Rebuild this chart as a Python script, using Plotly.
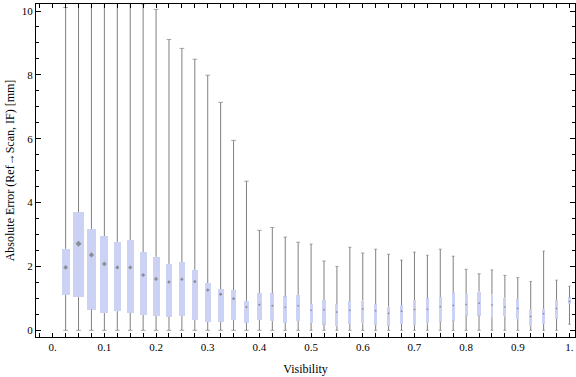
import plotly.graph_objects as go

# ---------------- data ----------------
visibility = [0.025, 0.05, 0.075, 0.1, 0.125, 0.15, 0.175, 0.2, 0.225, 0.25,
              0.275, 0.3, 0.325, 0.35, 0.375, 0.4, 0.425, 0.45, 0.475, 0.5,
              0.525, 0.55, 0.575, 0.6, 0.625, 0.65, 0.675, 0.7, 0.725, 0.75,
              0.775, 0.8, 0.825, 0.85, 0.875, 0.9, 0.925, 0.95, 0.975, 1.0]

whisker_low = [0, 0, 0, 0, 0, 0, 0, 0, 0, 0,
               0, 0, 0, 0, 0, 0, 0, 0, 0, 0,
               0, 0, 0, 0, 0, 0, 0, 0, 0, 0,
               0, 0, 0, 0, 0, 0, 0, 0, 0, 0.19]

q1 = [1.11, 1.04, 0.65, 0.54, 0.60, 0.55, 0.48, 0.45, 0.42, 0.45,
      0.32, 0.26, 0.26, 0.32, 0.23, 0.32, 0.29, 0.23, 0.29, 0.23,
      0.18, 0.13, 0.20, 0.22, 0.17, 0.14, 0.20, 0.17, 0.22, 0.27,
      0.30, 0.46, 0.46, 0.41, 0.44, 0.35, 0.13, 0.20, 0.36, 0.82]

median = [1.97, 2.71, 2.36, 2.08, 1.97, 1.97, 1.73, 1.61, 1.51, 1.60,
          1.53, 1.26, 1.13, 0.99, 0.73, 0.80, 0.77, 0.72, 0.77, 0.63,
          0.64, 0.57, 0.63, 0.67, 0.61, 0.53, 0.60, 0.65, 0.66, 0.74,
          0.78, 0.81, 0.85, 0.79, 0.73, 0.68, 0.43, 0.52, 0.68, 0.90]

q3 = [2.55, 3.70, 3.17, 2.95, 2.77, 2.83, 2.45, 2.30, 2.08, 2.14,
      1.89, 1.48, 1.29, 1.26, 0.92, 1.17, 1.16, 1.06, 1.11, 0.82,
      0.95, 0.82, 0.91, 0.93, 0.82, 0.74, 0.79, 0.95, 1.00, 1.04,
      1.19, 1.14, 1.21, 1.12, 1.02, 0.98, 0.64, 0.67, 0.95, 1.03]

whisker_high = [10.11, 12.5, 12.0, 11.5, 11.0, 10.8, 10.22, 10.05, 9.11, 8.83,
                8.49, 7.99, 7.14, 5.95, 4.67, 3.13, 3.22, 2.92, 2.76, 2.70,
                2.17, 2.00, 2.60, 2.42, 2.54, 2.38, 2.20, 2.45, 2.35, 2.54,
                2.32, 1.91, 1.77, 1.89, 1.72, 1.65, 1.53, 2.48, 1.57, 1.38]

x_tick_values = [0.0, 0.1, 0.2, 0.3, 0.4, 0.5, 0.6, 0.7, 0.8, 0.9, 1.0]
x_tick_labels = ["0.", "0.1", "0.2", "0.3", "0.4", "0.5", "0.6", "0.7", "0.8", "0.9", "1."]
y_tick_values = [0, 2, 4, 6, 8, 10]

# ---------------- styling ----------------
box_px = [8, 11, 9, 8, 7, 7, 7, 7, 6, 6,
          6, 6, 6, 5.5, 4.5, 4.5, 4, 3.5, 3.7, 3,
          3.3, 3, 3.3, 3.3, 3, 3, 2.7, 2.7, 2.7, 3,
          3, 3, 3.3, 2.7, 3, 3, 2.5, 2.5, 2.5, 2.5]

X_RANGE = [-0.0323, 1.0107]
Y_RANGE = [-0.21, 10.22]
W, H = 576, 377
M = dict(l=36, r=1, t=4, b=40)
px_per_x = (W - M["l"] - M["r"]) / (X_RANGE[1] - X_RANGE[0])

BOX_COLOR = "#cbd2f4"
WHISKER_COLOR = "#808080"
MEDIAN_COLOR = "#6e6e6e"
FONT = "Liberation Serif"

bar_widths = [p / px_per_x for p in box_px]
cap_sizes = [min(4.7, p) / 1.4 for p in box_px]
median_sizes = [max(1.6, min(4.6, p * 0.45)) for p in box_px]

# whisker segments (outside the boxes)
wx, wy = [], []
for x, lo, a, b, hi in zip(visibility, whisker_low, q1, q3, whisker_high):
    wx += [x, x, None, x, x, None]
    wy += [lo, a, None, b, hi, None]

fig = go.Figure()

fig.add_trace(go.Bar(
    x=visibility,
    base=q1,
    y=[b - a for a, b in zip(q1, q3)],
    width=bar_widths,
    marker=dict(color=BOX_COLOR, line=dict(width=0)),
    showlegend=False,
    hoverinfo="skip",
))

fig.add_trace(go.Scatter(
    x=wx, y=wy, mode="lines",
    line=dict(color=WHISKER_COLOR, width=1),
    showlegend=False, hoverinfo="skip",
))

fig.add_trace(go.Scatter(
    x=visibility + visibility,
    y=whisker_low + whisker_high,
    mode="markers",
    marker=dict(symbol="line-ew", size=cap_sizes + cap_sizes,
                line=dict(color=WHISKER_COLOR, width=1)),
    showlegend=False, hoverinfo="skip",
))

fig.add_trace(go.Scatter(
    x=visibility, y=median, mode="markers",
    marker=dict(symbol="diamond", size=median_sizes, color=MEDIAN_COLOR,
                line=dict(width=0)),
    showlegend=False,
))

axis_common = dict(
    showline=True, linecolor="black", linewidth=1, mirror="ticks",
    ticks="inside", tickcolor="black", showgrid=False, zeroline=False,
    automargin=False,
    tickfont=dict(family=FONT, size=11, color="black"),
)

fig.update_xaxes(
    range=X_RANGE, tickmode="array", tickvals=x_tick_values, ticktext=x_tick_labels,
    ticklen=4, tickwidth=1,
    minor=dict(tick0=0, dtick=0.025, ticks="inside", ticklen=4, tickcolor="black", showgrid=False),
    title=dict(text="Visibility", font=dict(family=FONT, size=12, color="black"), standoff=12),
    **axis_common,
)
fig.update_yaxes(
    range=Y_RANGE, tickmode="array", tickvals=y_tick_values,
    ticklen=5, tickwidth=1,
    minor=dict(tick0=0, dtick=0.5, ticks="inside", ticklen=3, tickcolor="black", showgrid=False),
    title=dict(text="Absolute Error (Ref\u2192Scan, IF) [mm]",
               font=dict(family=FONT, size=12, color="black"), standoff=4),
    **axis_common,
)

fig.update_layout(
    width=W, height=H, margin=M,
    paper_bgcolor="white", plot_bgcolor="white",
    bargap=0, showlegend=False,
    font=dict(family=FONT, color="black"),
)

fig.write_html("out.html", config={"displayModeBar": False},
               post_script="document.body.style.margin='0';")
